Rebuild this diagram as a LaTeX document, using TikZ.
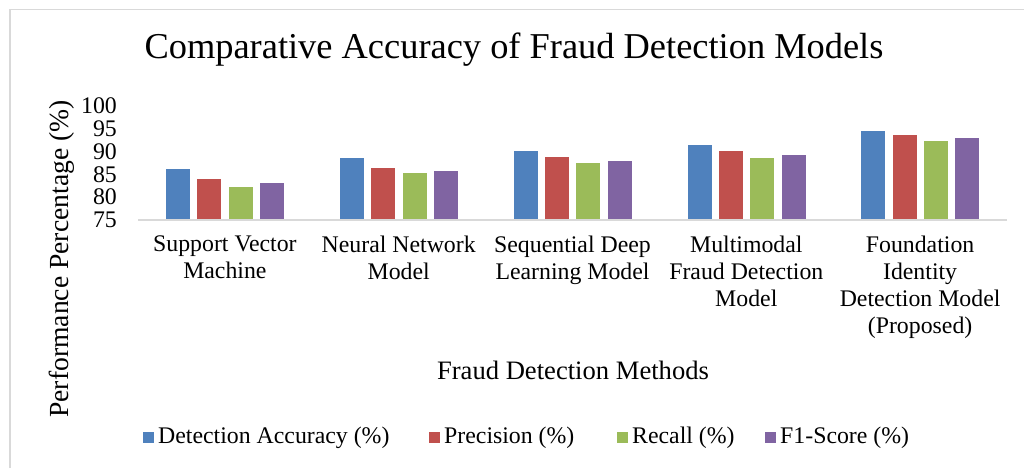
\documentclass[tikz,border=0pt]{standalone}
\usepackage{fontspec}
\setmainfont{Liberation Serif}
\definecolor{cA}{HTML}{4F81BD}
\definecolor{cB}{HTML}{C0504D}
\definecolor{cC}{HTML}{9BBB59}
\definecolor{cD}{HTML}{8064A2}
\definecolor{gridg}{HTML}{D9D9D9}
\begin{document}
\begin{tikzpicture}[x=1pt,y=-1pt,
  lbl/.style={font=\fontsize{23.8}{27}\selectfont, inner sep=0pt},
  cat/.style={lbl, align=center, anchor=north},
  tick/.style={lbl, anchor=east},
  axt/.style={font=\fontsize{26.6}{30}\selectfont, inner sep=0pt},
  barstyle/.style={draw=white, line width=0.6pt}]
\useasboundingbox (0,0) rectangle (1024,468);
\fill[white] (0,0) rectangle (1024,468);
% outer border
\draw[gridg, line width=1.5pt] (10,468) -- (10,9.5) -- (1024,9.5);
% title
\node[font=\fontsize{36.4}{40}\selectfont, inner sep=0pt] (title) at (514,50) {Comparative Accuracy of Fraud Detection Models};
% y ticks
\foreach \v in {75,80,...,100} {
  \node[tick] (t\v) at (117,{220-(\v-75)*4.56}) {\v};
}
% bars
\foreach \c/\a/\g/\d [count=\i from 0] in {86.4/84.2/82.5/83.3, 88.7/86.5/85.4/85.9, 90.3/88.9/87.6/88.2, 91.5/90.2/88.7/89.4, 94.6/93.8/92.4/93.1} {
  \pgfmathsetmacro{\cx}{138+173.8*(\i+0.5)}
  \fill[cA, barstyle] ({\cx-59.5},220) rectangle ({\cx-34.5},{220-(\c-75)*4.56});
  \fill[cB, barstyle] ({\cx-28.2},220) rectangle ({\cx-3.2},{220-(\a-75)*4.56});
  \fill[cC, barstyle] ({\cx+3.2},220) rectangle ({\cx+28.2},{220-(\g-75)*4.56});
  \fill[cD, barstyle] ({\cx+34.5},220) rectangle ({\cx+59.5},{220-(\d-75)*4.56});
}
% axis line
\draw[gridg, line width=2pt] (138,220) -- (1007,220);
% category labels
\node[cat] (c1) at (224.9,236) {Support Vector\\Machine};
\node[cat] (c2) at (398.7,236) {Neural Network\\Model};
\node[cat] (c3) at (572.5,236) {Sequential Deep\\Learning Model};
\node[cat] (c4) at (746.3,236) {Multimodal\\Fraud Detection\\Model};
\node[cat] (c5) at (920.1,236) {Foundation\\Identity\\Detection Model\\(Proposed)};
% axis titles
\node[axt] (xt) at (573,370) {Fraud Detection Methods};
\node[axt, font=\fontsize{27.6}{30}\selectfont, rotate=90] (yt) at (62,259) {Performance Percentage (\%)};
% legend
\foreach \col/\x/\txt/\nm in {cA/143/{Detection Accuracy (\%)}/la, cB/429/{Precision (\%)}/lb, cC/617/{Recall (\%)}/lc, cD/765/{F1-Score (\%)}/ld} {
  \fill[\col] (\x,432) rectangle ({\x+11},443);
  \node[lbl, anchor=west] (\nm) at ({\x+15},437.5) {\txt};
}
\end{tikzpicture}
\end{document}
